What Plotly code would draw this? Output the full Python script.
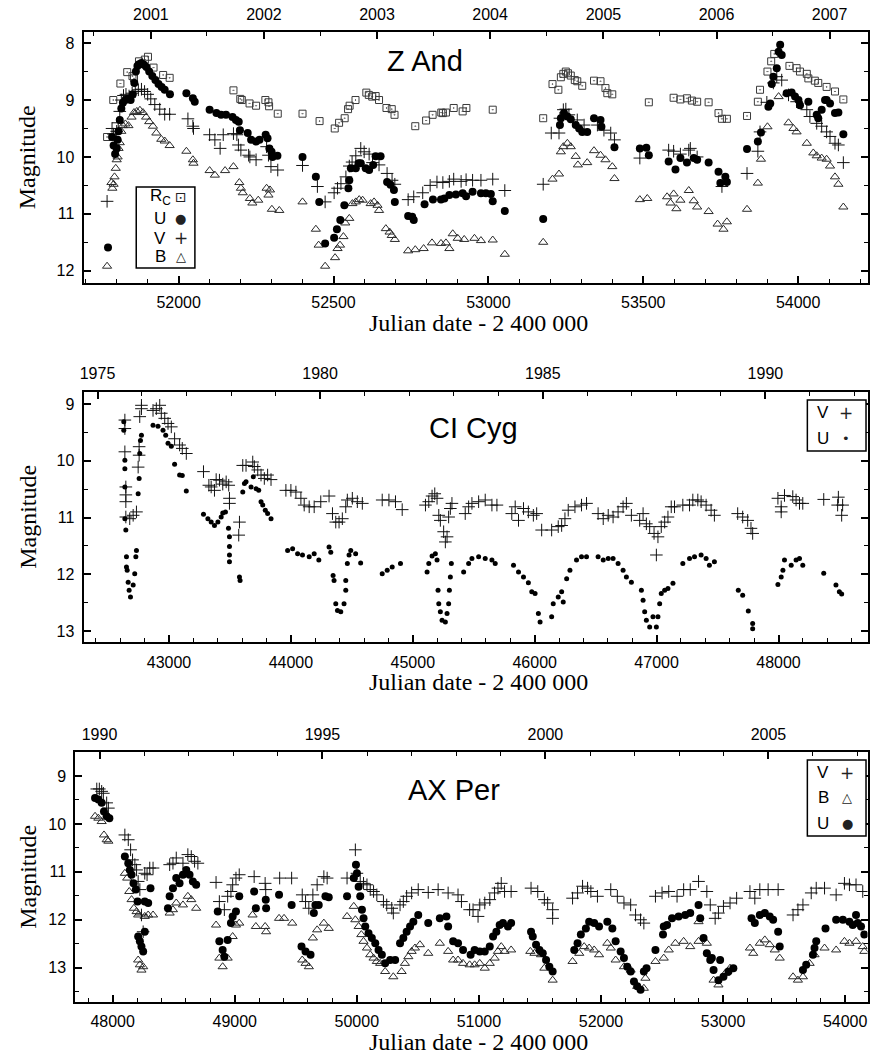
import plotly.graph_objects as go
from datetime import date

# ---------------- data (JD - 2400000, magnitude) ----------------
zand_rc = [(51769, 9.65), (51789, 9.0), (51812, 8.71), (51834, 8.51), (51851, 8.58), (51856, 8.62),
           (51872, 8.32), (51891, 8.29), (51901, 8.24), (51919, 8.43), (51950, 8.56), (51971, 8.61),
           (52177, 8.83), (52199, 8.98), (52204, 9.0), (52229, 9.06), (52250, 9.1), (52280, 9.0),
           (52290, 9.04), (52292, 9.11), (52320, 9.24), (52400, 9.24), (52455, 9.37), (52504, 9.5),
           (52518, 9.4), (52536, 9.32), (52547, 9.16), (52552, 9.1), (52571, 9.0), (52606, 8.87),
           (52614, 8.91), (52625, 8.94), (52636, 8.93), (52647, 9.0), (52671, 9.14), (52688, 9.16),
           (52697, 9.26), (52764, 9.46), (52799, 9.36), (52820, 9.26), (52848, 9.22), (52853, 9.23),
           (52863, 9.22), (52888, 9.14), (52917, 9.2), (52929, 9.14), (53014, 9.17), (53177, 9.32),
           (53207, 8.72), (53226, 8.82), (53234, 8.6), (53242, 8.54), (53250, 8.5), (53257, 8.53),
           (53266, 8.57), (53279, 8.65), (53287, 8.67), (53303, 8.75), (53341, 8.66), (53362, 8.67),
           (53378, 8.79), (53384, 8.88), (53400, 8.9), (53518, 9.04), (53598, 8.96), (53620, 8.99),
           (53641, 8.97), (53657, 9.01), (53674, 9.03), (53711, 9.04), (53743, 9.23), (53754, 9.33),
           (53770, 9.33), (53835, 9.28), (53870, 9.03), (53877, 8.82), (53901, 8.5), (53913, 8.32),
           (53923, 8.19), (53972, 8.4), (53995, 8.44), (54006, 8.5), (54028, 8.54), (54033, 8.62),
           (54054, 8.66), (54065, 8.7), (54092, 8.77), (54119, 8.85), (54146, 8.99)]

zand_u = [(51772, 11.59), (51785, 9.65), (51790, 9.8), (51795, 9.95), (51800, 9.85), (51803, 9.7),
          (51806, 9.55), (51810, 9.35), (51815, 9.15), (51820, 9.05), (51828, 9.0), (51836, 8.98),
          (51845, 9.0), (51852, 8.9), (51857, 8.7), (51862, 8.5), (51867, 8.4), (51872, 8.37),
          (51880, 8.35), (51888, 8.38), (51896, 8.42), (51905, 8.5), (51915, 8.58), (51925, 8.65),
          (51935, 8.72), (51945, 8.77), (51955, 8.82), (51972, 8.9), (52025, 8.88), (52046, 8.97),
          (52052, 9.03), (52100, 9.17), (52122, 9.23), (52137, 9.26), (52153, 9.26), (52174, 9.3),
          (52185, 9.35), (52194, 9.38), (52198, 9.53), (52223, 9.58), (52234, 9.7), (52250, 9.73),
          (52261, 9.7), (52281, 9.61), (52287, 9.67), (52293, 9.85), (52300, 9.91), (52303, 10.0),
          (52319, 9.98), (52400, 10.0), (52443, 10.35), (52454, 10.79), (52473, 11.52), (52502, 11.42),
          (52511, 11.27), (52522, 11.11), (52535, 10.85), (52548, 10.55), (52551, 10.41), (52556, 10.2),
          (52572, 10.2), (52581, 10.11), (52588, 10.11), (52604, 10.2), (52615, 10.23), (52628, 10.14),
          (52636, 9.99), (52652, 9.99), (52673, 10.44), (52684, 10.49), (52695, 10.58), (52698, 10.79),
          (52741, 11.04), (52754, 11.05), (52759, 11.11), (52794, 10.83), (52821, 10.75), (52847, 10.75),
          (52858, 10.73), (52874, 10.67), (52895, 10.66), (52917, 10.64), (52928, 10.69), (52949, 10.61),
          (52976, 10.64), (52992, 10.64), (53008, 10.65), (53014, 10.78), (53053, 10.95), (53177, 11.09),
          (53231, 9.44), (53234, 9.32), (53244, 9.23), (53255, 9.29), (53266, 9.34), (53282, 9.44),
          (53293, 9.5), (53303, 9.56), (53319, 9.56), (53341, 9.32), (53362, 9.35), (53365, 9.47),
          (53407, 9.83), (53489, 9.85), (53510, 9.84), (53518, 9.97), (53582, 10.08), (53604, 10.22),
          (53620, 10.02), (53641, 10.1), (53663, 10.02), (53674, 10.05), (53711, 10.1), (53743, 10.26),
          (53749, 10.46), (53765, 10.35), (53770, 10.44), (53835, 9.86), (53870, 9.73), (53880, 9.57),
          (53904, 9.12), (53910, 9.06), (53915, 8.72), (53920, 8.59), (53931, 8.44), (53937, 8.15),
          (53942, 8.03), (53947, 8.21), (53963, 8.88), (53979, 8.87), (53990, 8.94), (54001, 9.0),
          (54006, 9.09), (54033, 9.03), (54060, 9.26), (54065, 9.32), (54076, 9.17), (54087, 9.0),
          (54092, 9.0), (54103, 9.06), (54119, 9.23), (54130, 9.22), (54146, 9.6)]

zand_v = [(51769, 10.78), (51785, 9.5), (51790, 9.6), (51795, 9.7), (51800, 9.55), (51805, 9.4),
          (51810, 9.2), (51815, 9.0), (51822, 8.92), (51830, 8.9), (51840, 8.93), (51850, 8.88),
          (51860, 8.85), (51870, 8.82), (51880, 8.81), (51890, 8.85), (51900, 8.9), (51910, 8.98),
          (51923, 9.08), (51939, 9.16), (51955, 9.25), (51971, 9.25), (52030, 9.33), (52046, 9.46),
          (52048, 9.5), (52100, 9.61), (52117, 9.7), (52134, 9.85), (52144, 9.61), (52177, 9.59),
          (52188, 9.61), (52193, 9.79), (52201, 9.88), (52226, 9.97), (52230, 10.0), (52250, 10.05),
          (52284, 9.82), (52290, 9.97), (52298, 10.17), (52320, 10.23), (52400, 10.15), (52448, 10.52),
          (52473, 10.79), (52502, 10.63), (52513, 10.55), (52524, 10.47), (52540, 10.35), (52551, 10.16),
          (52560, 10.09), (52572, 9.98), (52588, 9.85), (52599, 9.91), (52615, 9.95), (52626, 10.1),
          (52647, 10.14), (52673, 10.29), (52689, 10.41), (52698, 10.48), (52741, 10.75), (52759, 10.7),
          (52788, 10.63), (52812, 10.5), (52834, 10.44), (52853, 10.45), (52874, 10.43), (52888, 10.39),
          (52912, 10.43), (52928, 10.4), (52949, 10.41), (52976, 10.41), (53014, 10.39), (53053, 10.59),
          (53177, 10.48), (53203, 9.58), (53228, 9.58), (53231, 9.32), (53242, 9.17), (53250, 9.16),
          (53260, 9.26), (53287, 9.35), (53309, 9.44), (53352, 9.44), (53373, 9.53), (53395, 9.58),
          (53407, 9.7), (53489, 10.02), (53582, 9.88), (53598, 9.9), (53620, 9.95), (53647, 9.88),
          (53652, 9.85), (53674, 10.0), (53754, 10.52), (53835, 10.29), (53870, 9.9), (53877, 9.56),
          (53899, 9.04), (53920, 8.7), (53931, 8.59), (53947, 8.65), (53969, 8.91), (53995, 9.03),
          (54028, 9.17), (54038, 9.29), (54060, 9.41), (54076, 9.46), (54092, 9.56), (54103, 9.64),
          (54119, 9.76), (54130, 9.79), (54146, 10.1)]

zand_b = [(51769, 11.92), (51783, 10.45), (51786, 10.55), (51790, 10.48), (51793, 10.35), (51797, 10.2),
          (51800, 10.05), (51803, 10.0), (51806, 9.85), (51810, 9.75), (51815, 9.55), (51820, 9.45),
          (51828, 9.42), (51838, 9.45), (51848, 9.3), (51856, 9.22), (51865, 9.2), (51875, 9.18),
          (51885, 9.22), (51895, 9.3), (51905, 9.38), (51917, 9.46), (51928, 9.58), (51944, 9.69),
          (51955, 9.72), (51971, 9.8), (52025, 9.9), (52046, 10.05), (52048, 10.11), (52100, 10.24),
          (52117, 10.32), (52150, 10.24), (52177, 10.17), (52196, 10.45), (52201, 10.55), (52207, 10.63),
          (52230, 10.73), (52238, 10.81), (52257, 10.76), (52284, 10.55), (52290, 10.67), (52295, 10.58),
          (52301, 10.92), (52325, 10.94), (52400, 10.79), (52443, 11.27), (52452, 11.55), (52473, 11.92),
          (52505, 11.77), (52513, 11.61), (52521, 11.55), (52532, 11.4), (52538, 11.16), (52551, 11.08),
          (52561, 10.82), (52572, 10.79), (52583, 10.75), (52594, 10.76), (52620, 10.82), (52631, 10.79),
          (52642, 10.85), (52647, 10.94), (52669, 11.26), (52681, 11.32), (52688, 11.38), (52698, 11.45),
          (52741, 11.65), (52764, 11.63), (52791, 11.61), (52818, 11.51), (52847, 11.52), (52863, 11.51),
          (52874, 11.61), (52885, 11.35), (52901, 11.43), (52922, 11.45), (52955, 11.43), (52976, 11.47),
          (53014, 11.46), (53053, 11.71), (53177, 11.5), (53207, 10.39), (53228, 10.3), (53234, 9.91),
          (53242, 9.82), (53255, 9.76), (53266, 9.82), (53282, 9.99), (53289, 10.14), (53319, 10.1),
          (53341, 9.89), (53362, 9.97), (53378, 10.05), (53400, 10.17), (53407, 10.38), (53489, 10.75),
          (53513, 10.73), (53577, 10.7), (53588, 10.81), (53598, 10.65), (53607, 10.91), (53620, 10.76),
          (53647, 10.59), (53663, 10.77), (53674, 10.88), (53711, 10.96), (53740, 11.18), (53759, 11.27),
          (53770, 11.14), (53835, 10.92), (53870, 10.46), (53880, 10.04), (53901, 9.47), (53937, 8.94),
          (53969, 9.4), (53985, 9.5), (53995, 9.56), (54028, 9.76), (54049, 9.93), (54060, 9.98),
          (54076, 10.02), (54092, 10.04), (54103, 10.16), (54119, 10.35), (54130, 10.48), (54146, 10.88)]

cicyg_v = [(42638, 9.28), (42638, 9.43), (42638, 9.84), (42646, 10.46), (42646, 10.6), (42646, 10.72),
           (42646, 10.99), (42678, 11.02), (42706, 10.96), (42733, 10.9), (42747, 10.11), (42755, 9.9),
           (42755, 9.75), (42760, 9.22), (42774, 9.08), (42774, 9.02), (42869, 9.11), (42896, 9.08),
           (42924, 9.02), (42937, 9.16), (42965, 9.25), (42992, 9.34), (43019, 9.4), (43046, 9.61),
           (43087, 9.72), (43109, 9.78), (43142, 9.87), (43283, 10.19), (43327, 10.43), (43346, 10.46),
           (43373, 10.52), (43387, 10.33), (43414, 10.34), (43441, 10.41), (43469, 10.37), (43490, 10.43),
           (43496, 10.66), (43496, 10.75), (43578, 11.08), (43572, 11.31), (43605, 10.08), (43632, 10.08),
           (43687, 10.02), (43700, 10.1), (43728, 10.16), (43755, 10.25), (43782, 10.31), (43809, 10.25),
           (43837, 10.33), (43959, 10.52), (44000, 10.52), (44041, 10.55), (44082, 10.66), (44109, 10.78),
           (44150, 10.81), (44191, 10.81), (44245, 10.72), (44313, 10.62), (44341, 10.93), (44368, 11.08),
           (44395, 11.08), (44422, 11.02), (44450, 10.81), (44463, 10.69), (44504, 10.66), (44545, 10.72),
           (44586, 10.75), (44749, 10.69), (44804, 10.69), (44858, 10.72), (44913, 10.86), (45104, 10.78),
           (45131, 10.72), (45158, 10.62), (45180, 10.58), (45199, 10.66), (45213, 10.96), (45226, 11.05),
           (45253, 11.25), (45267, 11.43), (45281, 11.34), (45294, 10.99), (45308, 10.84), (45321, 10.75),
           (45430, 10.93), (45458, 10.81), (45485, 10.75), (45540, 10.72), (45594, 10.69), (45649, 10.78),
           (45690, 10.78), (45812, 10.93), (45840, 10.81), (45867, 11.05), (45908, 10.84), (45948, 10.9),
           (45989, 10.96), (46016, 10.93), (46057, 11.22), (46139, 11.22), (46193, 11.16), (46221, 11.14),
           (46248, 11.02), (46275, 10.87), (46330, 10.81), (46384, 10.78), (46425, 10.75), (46520, 10.93),
           (46562, 11.02), (46603, 10.96), (46643, 10.99), (46684, 10.9), (46725, 10.81), (46752, 10.75),
           (46793, 10.96), (46861, 11.05), (46889, 10.93), (46916, 11.11), (46943, 11.16), (46979, 11.28),
           (47011, 11.34), (46998, 11.66), (47038, 11.16), (47066, 11.08), (47093, 10.99), (47120, 10.81),
           (47147, 10.81), (47215, 10.78), (47270, 10.78), (47297, 10.69), (47338, 10.69), (47365, 10.72),
           (47406, 10.78), (47447, 10.87), (47474, 10.96), (47665, 10.93), (47706, 10.99), (47747, 11.05),
           (47774, 11.19), (47788, 11.28), (47995, 10.66), (48022, 10.81), (48022, 10.9), (48049, 10.61),
           (48117, 10.63), (48144, 10.69), (48172, 10.75), (48199, 10.75), (48371, 10.68), (48491, 10.64),
           (48485, 10.78), (48526, 10.78), (48518, 10.96)]

cicyg_u = [(42629, 9.31), (42629, 9.46), (42638, 9.99), (42638, 10.14), (42638, 10.46), (42638, 11.02),
           (42646, 11.22), (42651, 11.69), (42651, 11.87), (42657, 11.93), (42665, 12.14), (42673, 12.28),
           (42684, 12.4), (42706, 12.19), (42719, 11.99), (42728, 11.69), (42733, 11.58), (42747, 10.58),
           (42755, 10.31), (42760, 9.87), (42766, 9.64), (42774, 9.55), (42869, 9.37), (42910, 9.39),
           (42951, 9.46), (42973, 9.55), (42992, 9.69), (43019, 9.74), (43046, 10.06), (43087, 10.25),
           (43109, 10.26), (43142, 10.53), (43283, 10.94), (43319, 11.02), (43346, 11.08), (43373, 11.14),
           (43401, 11.08), (43428, 10.99), (43441, 10.92), (43463, 10.9), (43488, 11.19), (43496, 11.34),
           (43496, 11.51), (43496, 11.66), (43496, 11.78), (43578, 12.05), (43583, 12.11), (43605, 10.55),
           (43619, 10.4), (43632, 10.37), (43673, 10.46), (43692, 10.28), (43714, 10.49), (43736, 10.52),
           (43755, 10.72), (43769, 10.78), (43790, 10.87), (43809, 10.93), (43837, 11.02), (43973, 11.58),
           (44014, 11.55), (44055, 11.64), (44095, 11.66), (44150, 11.69), (44191, 11.64), (44229, 11.75),
           (44313, 11.52), (44327, 11.61), (44346, 12.02), (44354, 12.11), (44368, 12.52), (44382, 12.64),
           (44409, 12.66), (44436, 12.52), (44450, 12.28), (44450, 12.11), (44463, 11.81), (44477, 11.66),
           (44491, 11.58), (44531, 11.64), (44572, 11.8), (44749, 11.99), (44790, 11.93), (44831, 11.87),
           (44899, 11.81), (45117, 11.96), (45131, 11.81), (45158, 11.68), (45185, 11.64), (45199, 11.75),
           (45207, 12.28), (45213, 12.52), (45226, 12.66), (45240, 12.81), (45267, 12.84), (45281, 12.69),
           (45294, 12.52), (45300, 12.28), (45308, 12.05), (45316, 11.81), (45417, 11.96), (45458, 11.81),
           (45485, 11.72), (45540, 11.69), (45594, 11.72), (45649, 11.75), (45676, 11.81), (45826, 11.84),
           (45867, 11.96), (45908, 12.05), (45948, 12.15), (45976, 12.31), (46003, 12.34), (46030, 12.69),
           (46044, 12.84), (46139, 12.75), (46152, 12.52), (46193, 12.4), (46221, 12.31), (46234, 12.49),
           (46262, 12.08), (46289, 11.93), (46343, 11.75), (46384, 11.69), (46425, 11.69), (46520, 11.69),
           (46562, 11.75), (46603, 11.72), (46643, 11.72), (46684, 11.81), (46725, 11.93), (46752, 12.05),
           (46793, 12.14), (46875, 12.28), (46889, 12.46), (46902, 12.66), (46916, 12.81), (46943, 12.93),
           (46970, 12.75), (46998, 12.93), (47011, 12.75), (47025, 12.52), (47038, 12.34), (47066, 12.28),
           (47093, 12.25), (47134, 12.16), (47215, 11.81), (47270, 11.72), (47311, 11.69), (47365, 11.66),
           (47406, 11.72), (47433, 11.84), (47474, 11.78), (47670, 12.28), (47706, 12.37), (47752, 12.65),
           (47788, 12.87), (47788, 12.96), (47995, 12.18), (48022, 12.05), (48036, 11.93), (48049, 11.75),
           (48104, 11.84), (48144, 11.75), (48172, 11.72), (48199, 11.84), (48371, 11.98), (48471, 12.19),
           (48499, 12.31), (48518, 12.35)]

axper_v = [(47870, 9.27), (47891, 9.27), (47910, 9.32), (47924, 9.36), (47951, 9.56), (47965, 9.67),
           (48100, 10.23), (48128, 10.33), (48147, 10.54), (48163, 10.75), (48182, 10.85), (48196, 10.96),
           (48209, 11.2), (48223, 11.37), (48236, 11.9), (48250, 12.25), (48263, 11.03), (48282, 11.06),
           (48304, 10.92), (48331, 10.92), (48467, 10.85), (48494, 10.82), (48521, 10.71), (48576, 10.82),
           (48616, 10.64), (48644, 10.68), (48671, 10.78), (48698, 10.82), (48847, 11.22), (48874, 11.62),
           (48915, 11.79), (48942, 11.51), (48969, 11.41), (48983, 11.27), (49010, 11.13), (49037, 11.06),
           (49159, 11.1), (49249, 11.24), (49254, 11.37), (49368, 11.13), (49466, 11.13), (49553, 11.48),
           (49580, 11.62), (49607, 11.76), (49640, 11.48), (49675, 11.27), (49730, 11.1), (49757, 11.13),
           (49920, 11.13), (49988, 10.54), (50001, 11.03), (50028, 11.2), (50055, 11.24), (50083, 11.27),
           (50110, 11.37), (50137, 11.41), (50164, 11.48), (50218, 11.62), (50245, 11.69), (50286, 11.76),
           (50299, 11.86), (50354, 11.69), (50381, 11.62), (50408, 11.51), (50449, 11.44), (50503, 11.37),
           (50585, 11.43), (50666, 11.37), (50748, 11.44), (50829, 11.48), (50857, 11.62), (50924, 11.79),
           (50952, 11.79), (50993, 11.93), (51007, 11.69), (51048, 11.65), (51089, 11.58), (51128, 11.44),
           (51156, 11.34), (51183, 11.24), (51210, 11.41), (51264, 11.41), (51427, 11.34), (51482, 11.41),
           (51536, 11.58), (51563, 11.65), (51604, 11.79), (51604, 11.97), (51767, 11.55), (51808, 11.44),
           (51849, 11.3), (51890, 11.34), (51917, 11.41), (51971, 11.51), (52080, 11.37), (52134, 11.51),
           (52188, 11.65), (52243, 11.69), (52283, 11.9), (52324, 12.0), (52351, 12.07), (52446, 11.51),
           (52500, 11.44), (52555, 11.41), (52623, 11.51), (52677, 11.37), (52731, 11.37), (52799, 11.2),
           (52867, 11.41), (52895, 11.69), (52935, 11.97), (52962, 11.86), (53003, 11.72), (53057, 11.65),
           (53111, 11.55), (53220, 11.41), (53260, 11.55), (53301, 11.37), (53369, 11.37), (53451, 11.37),
           (53573, 11.9), (53613, 11.79), (53654, 11.69), (53722, 11.44), (53763, 11.34), (53831, 11.34),
           (53926, 11.48), (53994, 11.24), (54035, 11.27), (54089, 11.27), (54144, 11.41)]

axper_b = [(47856, 9.84), (47883, 9.88), (47910, 9.95), (47929, 10.23), (47951, 10.33), (47965, 10.36),
           (48100, 11.03), (48119, 11.13), (48136, 11.41), (48155, 11.58), (48174, 11.76), (48196, 11.83),
           (48209, 11.9), (48209, 12.84), (48223, 12.94), (48236, 13.05), (48250, 12.98), (48263, 11.93),
           (48291, 11.9), (48331, 11.9), (48467, 11.86), (48494, 11.79), (48521, 11.65), (48576, 11.69),
           (48616, 11.51), (48644, 11.58), (48684, 11.76), (48847, 12.11), (48874, 12.8), (48901, 12.98),
           (48942, 12.8), (48983, 12.35), (49010, 12.11), (49037, 12.07), (49146, 11.9), (49173, 12.14),
           (49249, 12.14), (49257, 12.25), (49363, 11.97), (49404, 11.97), (49471, 12.07), (49553, 12.84),
           (49580, 12.91), (49607, 12.98), (49640, 12.38), (49675, 12.21), (49730, 12.07), (49770, 12.18),
           (49920, 11.93), (49975, 11.72), (49988, 12.0), (50015, 12.14), (50037, 12.31), (50055, 12.45),
           (50083, 12.59), (50110, 12.73), (50137, 12.8), (50164, 12.87), (50191, 12.91), (50232, 13.08),
           (50299, 13.19), (50367, 13.08), (50394, 12.91), (50422, 12.77), (50449, 12.66), (50476, 12.59),
           (50517, 12.52), (50585, 12.7), (50680, 12.49), (50748, 12.66), (50789, 12.84), (50829, 12.84),
           (50870, 12.91), (50924, 12.94), (50965, 12.94), (51007, 12.91), (51048, 13.01), (51089, 12.91),
           (51129, 12.8), (51156, 12.66), (51183, 12.56), (51210, 12.66), (51264, 12.63), (51421, 12.66),
           (51455, 12.7), (51509, 12.73), (51536, 13.01), (51604, 13.26), (51767, 12.87), (51822, 12.7),
           (51862, 12.56), (51903, 12.59), (51944, 12.63), (51984, 12.73), (52052, 12.49), (52080, 12.59),
           (52120, 12.84), (52188, 12.98), (52243, 13.05), (52297, 13.39), (52351, 13.43), (52364, 13.22),
           (52446, 12.87), (52514, 12.8), (52555, 12.63), (52609, 12.49), (52677, 12.45), (52731, 12.56),
           (52799, 12.04), (52799, 12.45), (52867, 12.49), (52922, 13.26), (52962, 13.36), (53017, 13.12),
           (53057, 13.01), (53220, 12.59), (53247, 12.7), (53301, 12.49), (53342, 12.42), (53382, 12.52),
           (53423, 12.63), (53464, 12.8), (53573, 13.19), (53613, 13.26), (53654, 13.19), (53709, 12.91),
           (53749, 12.73), (53831, 12.59), (53926, 12.63), (53994, 12.45), (54035, 12.49), (54089, 12.45),
           (54144, 12.56), (54157, 12.66)]

axper_u = [(47856, 9.46), (47883, 9.49), (47910, 9.56), (47929, 9.74), (47951, 9.84), (47973, 9.88),
           (48100, 10.68), (48128, 10.82), (48141, 10.96), (48155, 11.06), (48171, 11.24), (48190, 11.37),
           (48204, 11.62), (48209, 12.35), (48223, 12.45), (48236, 12.56), (48250, 12.66), (48263, 12.25),
           (48263, 11.62), (48291, 11.65), (48310, 11.34), (48453, 11.76), (48467, 11.51), (48494, 11.34),
           (48521, 11.13), (48548, 11.24), (48576, 11.06), (48603, 10.96), (48630, 11.06), (48657, 11.2),
           (48684, 11.27), (48861, 11.83), (48874, 12.45), (48901, 12.63), (48915, 12.77), (48942, 12.42),
           (48969, 12.07), (48983, 11.93), (49010, 11.83), (49037, 11.51), (49159, 11.41), (49173, 11.76),
           (49254, 11.58), (49257, 11.76), (49363, 11.48), (49466, 11.69), (49547, 12.56), (49580, 12.66),
           (49621, 12.73), (49648, 11.86), (49661, 11.69), (49688, 11.69), (49743, 11.51), (49770, 11.53),
           (49920, 11.51), (49975, 11.13), (49993, 10.85), (50001, 11.03), (50015, 11.31), (50028, 11.51),
           (50042, 11.79), (50055, 11.97), (50069, 12.14), (50096, 12.28), (50123, 12.38), (50151, 12.49),
           (50178, 12.63), (50205, 12.73), (50232, 12.91), (50273, 12.84), (50314, 12.84), (50354, 12.49),
           (50381, 12.38), (50408, 12.25), (50436, 12.14), (50463, 12.04), (50503, 11.9), (50585, 12.07),
           (50680, 11.97), (50734, 11.93), (50748, 12.14), (50789, 12.45), (50829, 12.49), (50870, 12.63),
           (50932, 12.73), (50965, 12.63), (51007, 12.66), (51048, 12.66), (51089, 12.56), (51116, 12.35),
           (51143, 12.25), (51170, 12.11), (51197, 12.07), (51238, 12.14), (51264, 12.07), (51427, 12.25),
           (51441, 12.35), (51468, 12.52), (51496, 12.63), (51523, 12.7), (51550, 12.84), (51577, 12.98),
           (51604, 13.08), (51781, 12.63), (51808, 12.49), (51835, 12.31), (51876, 12.18), (51903, 12.04),
           (51944, 12.07), (51984, 12.14), (52052, 12.04), (52093, 12.18), (52120, 12.45), (52161, 12.66),
           (52188, 12.8), (52215, 12.98), (52243, 13.08), (52270, 13.29), (52297, 13.39), (52324, 13.46),
           (52351, 13.08), (52373, 13.01), (52446, 12.63), (52508, 12.31), (52514, 12.14), (52541, 12.11),
           (52582, 11.97), (52636, 11.93), (52690, 11.9), (52731, 11.86), (52799, 11.69), (52813, 11.97),
           (52840, 12.38), (52867, 12.7), (52895, 12.84), (52908, 12.8), (52922, 13.05), (52962, 13.26),
           (52976, 12.84), (53003, 13.19), (53044, 13.08), (53084, 13.01), (53233, 11.97), (53260, 12.07),
           (53301, 11.9), (53342, 11.86), (53382, 11.93), (53410, 12.0), (53451, 12.25), (53464, 12.56),
           (53654, 13.05), (53681, 12.94), (53736, 12.73), (53749, 12.59), (53763, 12.45), (53839, 12.18),
           (53926, 12.0), (53981, 12.0), (54035, 12.04), (54062, 12.11), (54089, 11.9), (54103, 12.07),
           (54130, 12.14), (54157, 12.31)]

W, H = 870, 1057
SERIF = "Liberation Serif, Times New Roman, serif"
SANS = "Liberation Sans, Arial, sans-serif"


def px(x):
    return x / W


def py(y):
    return 1 - y / H


def year_jd(y):
    # JD - 2400000 at 1 January of year y
    return date(y, 1, 1).toordinal() - date(1858, 11, 17).toordinal() + 0.5


def cols(pairs):
    return [p[0] for p in pairs], [p[1] for p in pairs]


# panel boxes in pixels (left, top, right, bottom)
panels = [
    dict(box=(80, 32.3, 868.5, 282.7), xr=[51693, 54224], yr=[12.21, 7.81], dtick=500, minor=100,
         years=range(2001, 2008), ylabels=range(2001, 2008), yminor="half", name="Z And",
         name_pos=(423, 61)),
    dict(box=(80, 391.7, 868.5, 642.3), xr=[42299, 48730], yr=[13.2, 8.78], dtick=1000, minor=200,
         years=range(1975, 1993), ylabels=[1975, 1980, 1985, 1990], yminor="year", name="CI Cyg",
         name_pos=(472, 427.5)),
    dict(box=(71.7, 752.3, 868.5, 1001.7), xr=[47694, 54183], yr=[13.71, 8.505], dtick=1000, minor=200,
         years=range(1990, 2008), ylabels=[1990, 1995, 2000, 2005], yminor="year", name="AX Per",
         name_pos=(453, 790)),
]

fig = go.Figure()


def add(pairs, i, symbol, size, color, lw=1.0):
    xs, ys = cols(pairs)
    ax = "" if i == 0 else str(i + 1)
    fig.add_trace(go.Scatter(
        x=xs, y=ys, mode="markers", xaxis="x" + ax, yaxis="y" + ax, showlegend=False,
        marker=dict(symbol=symbol, size=size, color=color, line=dict(color=color, width=lw)),
        hoverinfo="x+y"))


# Z And
add(zand_rc, 0, "square-open-dot", 7, "#3a3a3a")
add(zand_b, 0, "triangle-up-open", 8, "#2a2a2a")
add(zand_v, 0, "cross-thin-open", 9, "#111111")
add(zand_u, 0, "circle", 8, "black", 0)
# CI Cyg
add(cicyg_v, 1, "cross-thin-open", 9, "#111111")
add(cicyg_u, 1, "circle", 5, "black", 0)
# AX Per
add(axper_b, 2, "triangle-up-open", 8, "#2a2a2a")
add(axper_v, 2, "cross-thin-open", 9, "#111111")
add(axper_u, 2, "circle", 8, "black", 0)

# empty traces so the top (calendar year) axes are registered
for i in range(3):
    n = "" if i == 0 else str(i + 1)
    fig.add_trace(go.Scatter(x=[], y=[], xaxis="x" + str(i + 4), yaxis="y" + n,
                             showlegend=False, hoverinfo="skip"))

tickfont = dict(family=SANS, size=16, color="black")
layout = dict(width=W, height=H, margin=dict(l=0, r=0, t=0, b=0), autosize=False,
              paper_bgcolor="white", plot_bgcolor="white", showlegend=False)

annotations = []
shapes = []
for i, p in enumerate(panels):
    l, t, r, b = p["box"]
    n = "" if i == 0 else str(i + 1)
    top = str(i + 4)
    layout["xaxis" + n] = dict(
        domain=[px(l), px(r)], range=p["xr"], anchor="y" + n, showgrid=False, zeroline=False,
        showline=True, linecolor="black", linewidth=2, ticks="inside", ticklen=7, tickwidth=1.5,
        tickcolor="black", dtick=p["dtick"], tick0=0, tickformat="d", tickfont=tickfont,
        ticklabelstandoff=4,
        minor=dict(dtick=p["minor"], tick0=0, ticks="inside", ticklen=4, tickwidth=1.2, tickcolor="black"))
    yrs = list(p["years"])
    major = [year_jd(y) for y in p["ylabels"]]
    if p["yminor"] == "half":
        minor_vals = [year_jd(y) + 181 for y in range(yrs[0] - 1, yrs[-1] + 1)]
    else:
        minor_vals = [year_jd(y) for y in range(yrs[0] - 1, yrs[-1] + 2) if y not in p["ylabels"]]
    layout["xaxis" + top] = dict(
        domain=[px(l), px(r)], range=p["xr"], anchor="y" + n, overlaying="x" + n, side="top",
        showgrid=False, zeroline=False, showline=True, linecolor="black", linewidth=2,
        ticks="inside", ticklen=7, tickwidth=1.5, tickcolor="black", tickmode="array",
        tickvals=major, ticktext=[str(y) for y in p["ylabels"]], tickfont=tickfont,
        showticklabels=True, ticklabelstandoff=4,
        minor=dict(tickmode="array", tickvals=minor_vals, ticks="inside", ticklen=4, tickwidth=1.2,
                   tickcolor="black"))
    layout["yaxis" + n] = dict(
        domain=[py(b), py(t)], range=p["yr"], anchor="x" + n, showgrid=False, zeroline=False,
        showline=True, linecolor="black", linewidth=2, mirror="ticks", ticks="inside", ticklen=7,
        tickwidth=1.5, tickcolor="black", dtick=1, tick0=0, tickfont=tickfont, ticklabelstandoff=4,
        minor=dict(dtick=0.5, tick0=0, ticks="inside", ticklen=4, tickwidth=1.2, tickcolor="black"))

    # star name
    annotations.append(dict(text=p["name"], x=px(p["name_pos"][0]), y=py(p["name_pos"][1]),
                            xref="paper", yref="paper", showarrow=False, xanchor="center",
                            yanchor="middle", font=dict(family=SANS, size=29, color="black")))
    # axis titles
    annotations.append(dict(text="Julian date - 2 400 000", x=px(477), y=py(b + 40),
                            xref="paper", yref="paper", showarrow=False, xanchor="center",
                            yanchor="middle", font=dict(family=SERIF, size=24, color="black")))
    annotations.append(dict(text="Magnitude", x=px(24), y=py((t + b) / 2), textangle=-90,
                            xref="paper", yref="paper", showarrow=False, xanchor="center",
                            yanchor="middle", font=dict(family=SERIF, size=24, color="black")))

# legend boxes (text on the left, symbol on the right as in the original)
legends = [
    ((133, 187, 192, 268), 157, 178,
     [("R<sub>C</sub>", "⊡", 197, 14), ("U", "●", 218, 13), ("V", "+", 238, 17), ("B", "△", 257, 13)]),
    ((808, 400, 867, 451), 824, 847, [("V", "+", 412.7, 17), ("U", "•", 438, 13)]),
    ((808, 760, 867, 836), 824, 848,
     [("V", "+", 772.7, 17), ("B", "△", 797.7, 13), ("U", "●", 823.3, 13)]),
]
for (x0, y0, x1, y1), tx, sx, rows in legends:
    shapes.append(dict(type="rect", xref="paper", yref="paper", x0=px(x0), x1=px(x1), y0=py(y1),
                       y1=py(y0), line=dict(color="black", width=1.5), fillcolor="white", layer="above"))
    for label, glyph, yy, gs in rows:
        annotations.append(dict(text=label, x=px(tx), y=py(yy), xref="paper", yref="paper",
                                showarrow=False, xanchor="center", yanchor="middle",
                                font=dict(family=SANS, size=17, color="black")))
        annotations.append(dict(text=glyph, x=px(sx), y=py(yy), xref="paper", yref="paper",
                                showarrow=False, xanchor="center", yanchor="middle",
                                font=dict(family="DejaVu Sans", size=gs, color="#222222")))

layout["annotations"] = annotations
layout["shapes"] = shapes
fig.update_layout(**layout)

fig.write_html("out.html", config={"displayModeBar": False},
               post_script="document.body.style.margin='0';document.body.style.overflow='hidden';")
